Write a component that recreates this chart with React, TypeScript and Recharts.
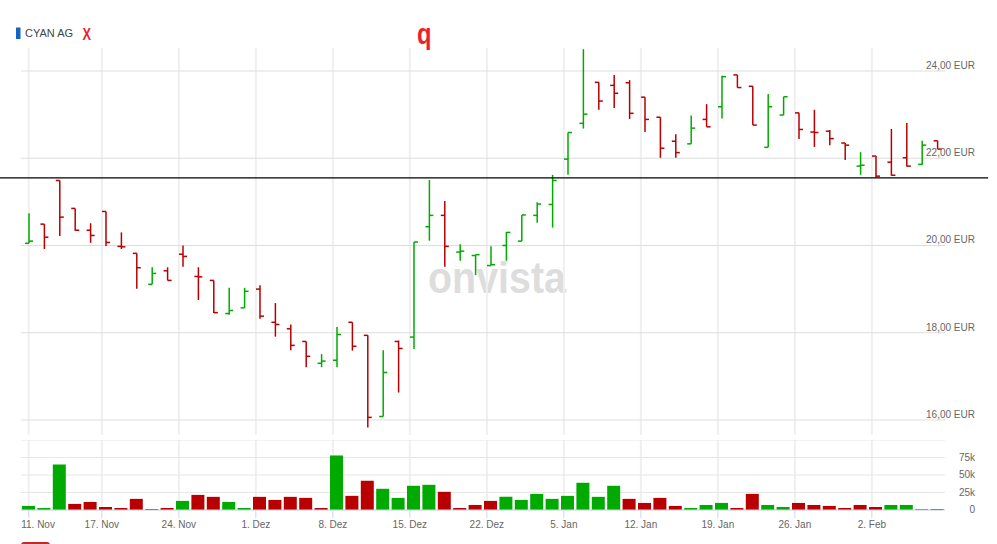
import { Bar, CartesianGrid, Cell, ComposedChart, ReferenceLine, XAxis, YAxis } from 'recharts';

const days = [
  '11.11.', '12.11.', '13.11.', '14.11.', '17.11.', '18.11.', '19.11.', '20.11.', '21.11.', '24.11.',
  '25.11.', '26.11.', '27.11.', '28.11.', '01.12.', '02.12.', '03.12.', '04.12.', '05.12.', '08.12.',
  '09.12.', '10.12.', '11.12.', '12.12.', '15.12.', '16.12.', '17.12.', '18.12.', '19.12.', '22.12.',
  '23.12.', '29.12.', '30.12.', '02.01.', '05.01.', '06.01.', '07.01.', '08.01.', '09.01.', '12.01.',
  '13.01.', '14.01.', '15.01.', '16.01.', '19.01.', '20.01.', '21.01.', '22.01.', '23.01.', '26.01.',
  '27.01.', '28.01.', '29.01.', '30.01.', '02.02.', '03.02.', '04.02.', '05.02.', '06.02.', '09.02.',
];

const opens = [
  20.05, 20.49, 21.49, 20.85, 20.35, 20.78, 19.98, 19.82, 19.11, 19.42,
  19.8, 19.29, 19.2, 18.44, 18.57, 19.0, 18.24, 18.09, 17.8, 17.3,
  17.37, 18.24, 17.94, 16.08, 17.8, 17.9, 20.43, 20.69, 19.85, 19.77,
  19.54, 20.0, 20.1, 20.69, 20.94, 21.98, 22.8, 23.74, 23.67, 23.73,
  23.4, 22.94, 22.39, 22.33, 22.89, 23.18, 23.91, 23.65, 22.25, 22.99,
  23.04, 22.6, 22.62, 22.35, 21.82, 22.05, 21.91, 22.01, 21.86, 22.4,
];
const highs = [
  20.74, 20.49, 21.49, 20.85, 20.51, 20.78, 20.3, 19.82, 19.5, 19.5,
  20.0, 19.5, 19.2, 19.03, 19.03, 19.09, 18.68, 18.19, 17.8, 17.51,
  18.13, 18.24, 17.94, 17.6, 17.82, 20.08, 21.5, 21.02, 20.03, 19.79,
  19.98, 20.31, 20.7, 20.99, 21.62, 22.59, 24.5, 23.74, 23.91, 23.79,
  23.4, 22.94, 22.55, 22.98, 23.24, 23.89, 23.91, 23.65, 23.47, 23.41,
  23.04, 23.11, 22.65, 22.35, 22.14, 22.05, 22.67, 22.81, 22.4, 22.4,
];
const lows = [
  20.05, 19.92, 20.22, 20.34, 20.06, 19.99, 19.92, 19.01, 19.11, 19.2,
  19.51, 18.75, 18.45, 18.41, 18.57, 18.32, 17.91, 17.6, 17.21, 17.21,
  17.21, 17.59, 15.83, 16.08, 16.63, 17.63, 20.11, 19.51, 19.65, 19.32,
  19.54, 19.65, 20.1, 20.52, 20.41, 21.62, 22.68, 23.11, 23.15, 22.9,
  22.6, 22.01, 22.01, 22.33, 22.72, 22.91, 23.62, 22.76, 22.25, 22.99,
  22.44, 22.26, 22.3, 21.96, 21.62, 21.56, 21.6, 21.81, 21.85, 22.21,
];
const closes = [
  20.1, 20.19, 20.65, 20.35, 20.23, 20.07, 19.97, 19.49, 19.36, 19.2,
  19.75, 19.28, 18.46, 18.51, 18.95, 18.38, 18.19, 17.71, 17.46, 17.35,
  17.96, 17.69, 16.06, 17.09, 17.64, 20.08, 20.69, 19.98, 19.87, 19.79,
  19.56, 20.3, 20.7, 20.95, 21.49, 22.59, 23.01, 23.31, 23.49, 23.03,
  22.89, 22.23, 22.13, 22.69, 22.72, 23.87, 23.62, 22.76, 23.18, 23.41,
  22.66, 22.59, 22.45, 22.3, 21.84, 21.59, 21.61, 21.82, 22.3, 22.21,
];
const volumes = [
  5800, 2900, 65000, 8700, 11500, 4300, 2900, 15900, 1400, 2900,
  13000, 21600, 18800, 11500, 2900, 18800, 14400, 18800, 17300, 2900,
  77900, 20200, 41800, 30300, 17300, 34600, 36000, 26000, 2900, 7200,
  13000, 18800, 14400, 23000, 15900, 20200, 38900, 18800, 34600, 15900,
  10100, 17300, 5800, 2900, 7200, 10100, 2900, 23000, 7200, 4300,
  10100, 7200, 5800, 2900, 7200, 4300, 7200, 7200, 1400, 1400,
];

const tickPos = [0, 4.75, 9.75, 14.75, 19.75, 24.75, 29.75, 34.75, 39.75, 44.75, 49.75, 54.75];
const tickLabels = ['11. Nov', '17. Nov', '24. Nov', '1. Dez', '8. Dez', '15. Dez', '22. Dez', '5. Jan', '12. Jan', '19. Jan', '26. Jan', '2. Feb'];
const priceTicks = [16, 18, 20, 22, 24];
const volumeTicks = [0, 25000, 50000, 75000, 100000];
const volumeLabels = ['0', '25k', '50k', '75k', ''];
const crosshairPrice = 21.55;

const UP = '#00aa00';
const DOWN = '#b80000';
const FONT = '"Liberation Sans", Arial, Helvetica, sans-serif';

const rows = days.map((d, i) => ({
  d,
  i,
  o: opens[i],
  h: highs[i],
  l: lows[i],
  c: closes[i],
  range: [lows[i], highs[i]],
  v: volumes[i],
  volUp: i === 0 || closes[i] >= closes[i - 1],
}));

function OhlcBar(props: any) {
  const { x, y, width, height, payload } = props;
  const cx = x + width / 2;
  const top = Math.min(y, y + height);
  const bottom = Math.max(y, y + height);
  const span = payload.h - payload.l;
  const at = (v: number) => (span > 0 ? top + ((payload.h - v) / span) * (bottom - top) : top);
  const color = payload.c >= payload.o ? UP : DOWN;
  return (
    <g stroke={color} strokeWidth={1.5}>
      <line x1={cx} x2={cx} y1={top} y2={bottom} />
      <line x1={cx - 4} x2={cx} y1={at(payload.o)} y2={at(payload.o)} />
      <line x1={cx} x2={cx + 4} y1={at(payload.c)} y2={at(payload.c)} />
    </g>
  );
}

function PriceTick({ y, payload }: any) {
  return (
    <text x={975} y={y - 2} textAnchor="end" fontSize={10} fill="#666" fontFamily={FONT}>
      {payload.value.toFixed(2).replace('.', ',')} EUR
    </text>
  );
}

function VolumeTick({ y, payload }: any) {
  const label = volumeLabels[volumeTicks.indexOf(payload.value)];
  return (
    <text x={975} y={y + 3} textAnchor="end" fontSize={10} fill="#666" fontFamily={FONT}>
      {label}
    </text>
  );
}

function DateTick({ x, payload }: any) {
  const idx = tickPos.indexOf(payload.value);
  const first = idx === 0;
  return (
    <text x={first ? x - 7.5 : x} y={88} textAnchor={first ? 'start' : 'middle'} fontSize={10} fill="#666" fontFamily={FONT}>
      {tickLabels[idx]}
    </text>
  );
}

export default function App() {
  return (
    <div style={{ position: 'absolute', left: 0, top: 0, width: 997, height: 544, background: '#fff', fontFamily: FONT, overflow: 'hidden' }}>
      <svg width={997} height={544} style={{ position: 'absolute', left: 0, top: 0 }}>
        <rect x={16} y={27.5} width={4.5} height={11.5} fill="#1565c0" />
        <text x={25} y={36.7} fontSize={11} fill="#444" fontFamily={FONT}>CYAN AG</text>
        <text x={82.5} y={40} fontSize={16} fontWeight="bold" fill="#f01e2c" fontFamily={FONT} textLength={8.5} lengthAdjust="spacingAndGlyphs">X</text>
        <text x={417} y={44} fontSize={30} fontWeight="bold" fill="#f01e2c" fontFamily={FONT} textLength={14.5} lengthAdjust="spacingAndGlyphs">q</text>
        <text x={428} y={292.5} fontSize={44} fontWeight="bold" fill="#dddddd" fontFamily={FONT} textLength={138} lengthAdjust="spacingAndGlyphs">onvista</text>
        <rect x={21} y={542} width={29} height={6} rx={3} fill="#c0282d" />
      </svg>

      <div style={{ position: 'absolute', left: 0, top: 0 }}>
        <ComposedChart width={997} height={437} data={rows} margin={{ top: 48, right: 0, bottom: 2, left: 21 }}>
          <XAxis xAxisId="cat" dataKey="d" type="category" orientation="top" height={0} hide />
          <XAxis xAxisId="num" dataKey="i" type="number" domain={[-0.5, 59.5]} ticks={tickPos} allowDataOverflow height={0} hide />
          <YAxis orientation="right" width={52} domain={[15.656, 24.527]} ticks={priceTicks} interval={0} allowDataOverflow axisLine={false} tickLine={false} tick={PriceTick} />
          <CartesianGrid xAxisId="num" horizontal={false} syncWithTicks stroke="#efefef" strokeWidth={2} />
          <CartesianGrid xAxisId="num" vertical={false} syncWithTicks stroke="#dedede" />
          <ReferenceLine
            xAxisId="num"
            segment={[{ x: -2, y: crosshairPrice }, { x: 62.3, y: crosshairPrice }]}
            stroke="#000"
            strokeWidth={1.2}
            ifOverflow="visible"
          />
          <Bar xAxisId="cat" dataKey="range" barSize={8} shape={OhlcBar} isAnimationActive={false} />
        </ComposedChart>
      </div>

      <div style={{ position: 'absolute', left: 0, top: 440 }}>
        <ComposedChart width={997} height={104} data={rows} margin={{ top: 0, right: 0, bottom: 4, left: 21 }}>
          <XAxis xAxisId="cat" dataKey="d" type="category" orientation="top" height={0} hide />
          <XAxis
            xAxisId="num"
            dataKey="i"
            type="number"
            domain={[-0.5, 59.5]}
            ticks={tickPos}
            interval={0}
            allowDataOverflow
            height={30}
            stroke="#ccd6eb"
            tickSize={8}
            tick={DateTick}
          />
          <YAxis orientation="right" width={52} domain={[0, 100000]} ticks={volumeTicks} interval={0} allowDataOverflow axisLine={false} tickLine={false} tick={VolumeTick} />
          <CartesianGrid xAxisId="num" horizontal={false} syncWithTicks stroke="#efefef" strokeWidth={2} />
          <CartesianGrid xAxisId="num" vertical={false} syncWithTicks stroke="#e6e6e6" />
          <Bar xAxisId="cat" dataKey="v" barSize={13} isAnimationActive={false}>
            {rows.map((r) => (
              <Cell key={r.d} fill={r.volUp ? UP : DOWN} />
            ))}
          </Bar>
        </ComposedChart>
      </div>
    </div>
  );
}
